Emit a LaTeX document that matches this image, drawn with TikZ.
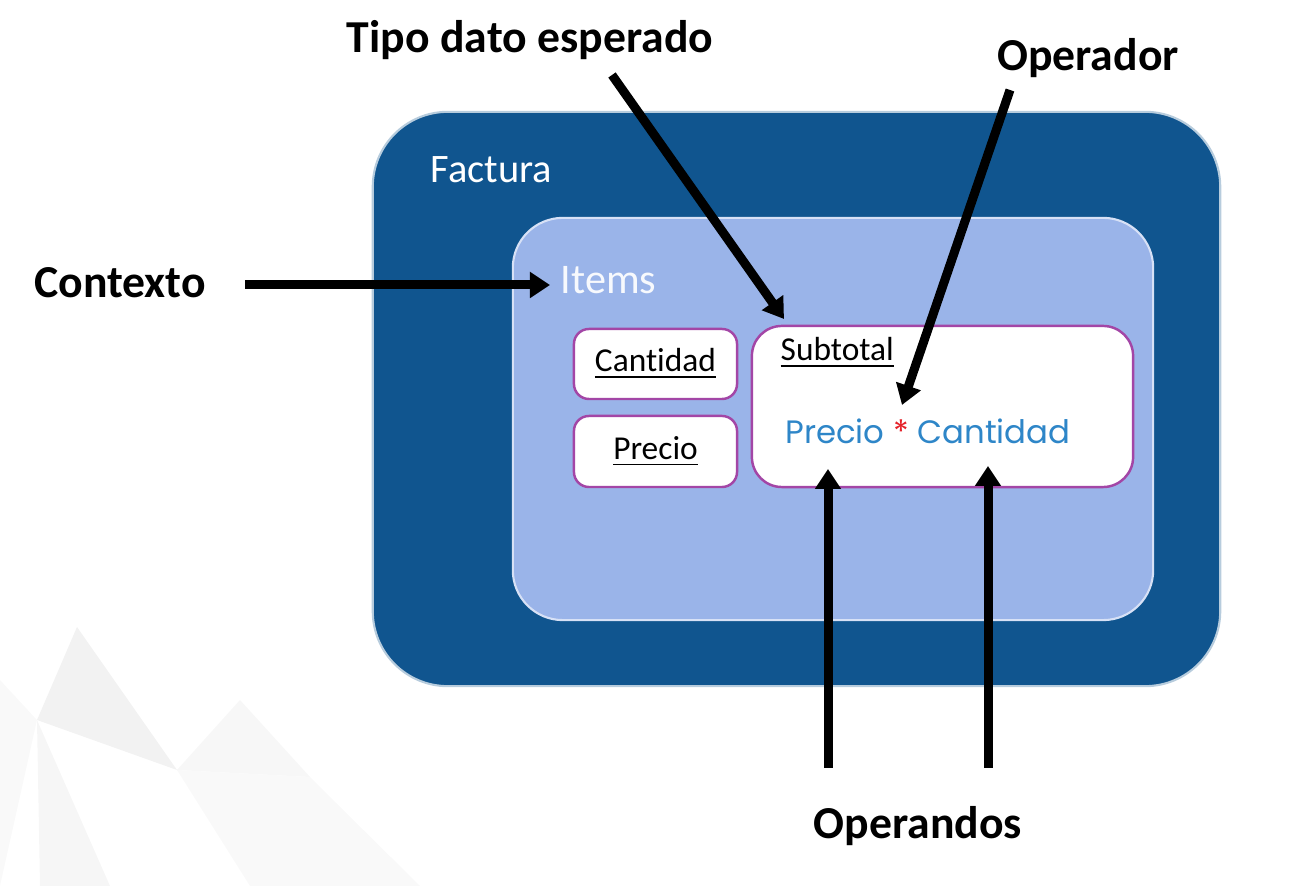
\documentclass[tikz,border=0pt]{standalone}
\usepackage{fontspec}
\setmainfont{Carlito}[Ligatures=CommonOff]
\newfontfamily\geofont{Poppins}
\usetikzlibrary{arrows.meta,positioning}
\definecolor{facturablue}{HTML}{10558F}
\definecolor{itemsblue}{HTML}{9AB4E9}
\definecolor{boxpurple}{HTML}{A346A6}
\definecolor{exprblue}{HTML}{2E86C8}
\definecolor{exprred}{HTML}{E52129}
\tikzset{
  pointer/.style={line width=0.09cm,-{Triangle[length=0.2cm,width=0.25cm]}},
  label/.style={font=\bfseries\fontsize{13}{15}\selectfont,inner sep=0pt},
  fieldbox/.style={draw=boxpurple,line width=0.7pt,fill=white,rounded corners=0.15cm},
}
\begin{document}
\begin{tikzpicture}[x=0.01cm,y=-0.01cm]
\useasboundingbox (0,0) rectangle (1311,886);
% faint background polygons
\fill [gray!10] (77,627) -- (177,770) -- (37,720) -- cycle;
\fill [gray!7] (37,720) -- (110,886) -- (40,886) -- cycle;
\fill [gray!6] (177,770) -- (240,700) -- (310,777) -- cycle;
\fill [gray!5] (0,680) -- (37,720) -- (0,886) -- cycle;
\fill [gray!5] (177,770) -- (310,777) -- (420,886) -- (250,886) -- cycle;
% boxes
\node (factura) [draw=white!70!facturablue,line width=0.6pt,fill=facturablue,rounded corners=0.75cm,
  minimum width=8.47cm,minimum height=5.74cm] at (796.5,399) {};
\node (items) [draw=white!60!itemsblue,line width=0.6pt,fill=itemsblue,rounded corners=0.5cm,
  minimum width=6.4cm,minimum height=4.02cm] at (833,419) {};
\node (cantidad) [fieldbox,minimum width=1.63cm,minimum height=0.7cm] at (655.5,364) {};
\node (precio) [fieldbox,minimum width=1.63cm,minimum height=0.71cm] at (655.5,451.5) {};
\node (subtotal) [fieldbox,rounded corners=0.3cm,minimum width=3.81cm,minimum height=1.61cm] at (942.5,406.5) {};
% texts
\node (facturatxt) [anchor=base west,text=white,inner sep=0pt,font=\fontsize{11.5}{13}\selectfont] at (430,183) {Factura};
\node (itemstxt) [anchor=base west,text=white!92!itemsblue,inner sep=0pt,font=\fontsize{12}{14}\selectfont] at (560,294) {Items};
\node (cantidadtxt) [inner sep=0pt,font=\fontsize{9.5}{11}\selectfont] at (cantidad) {\underline{Cantidad}};
\node (preciotxt) [inner sep=0pt,font=\fontsize{9.5}{11}\selectfont] at (precio) {\underline{Precio}};
\node (subtotaltxt) [anchor=base west,inner sep=0pt,font=\fontsize{9.5}{11}\selectfont] at (780,361) {\underline{Subtotal}};
\node (expr) [inner sep=0pt,text=exprblue,font=\geofont\fontsize{9.2}{11}\selectfont] at (928,431)
  {Precio {\color{exprred}*} Cantidad};
% labels
\node (contexto) [label] at (120,283) {Contexto};
\node (tipo) [label] at (530,40) {Tipo dato esperado};
\node (operador) [label] at (1088,58) {Operador};
\node (operandos) [label] at (918,826) {Operandos};
% arrow ends
\coordinate (ctxa) at (245,285);
\coordinate (ctxb) at (550,285);
\coordinate (tipoa) at (612,75);
\coordinate (tipob) at (784,319);
\coordinate (opa) at (1010,90);
\coordinate (opb) at (902,405);
\coordinate (oa1) at (828,768);
\coordinate (ob1) at (828,469);
\coordinate (oa2) at (988,768);
\coordinate (ob2) at (988,466);
\draw [pointer] (ctxa) -- (ctxb);
\draw [pointer] (tipoa) -- (tipob);
\draw [pointer] (opa) -- (opb);
\draw [pointer] (oa1) -- (ob1);
\draw [pointer] (oa2) -- (ob2);
\end{tikzpicture}
\end{document}
